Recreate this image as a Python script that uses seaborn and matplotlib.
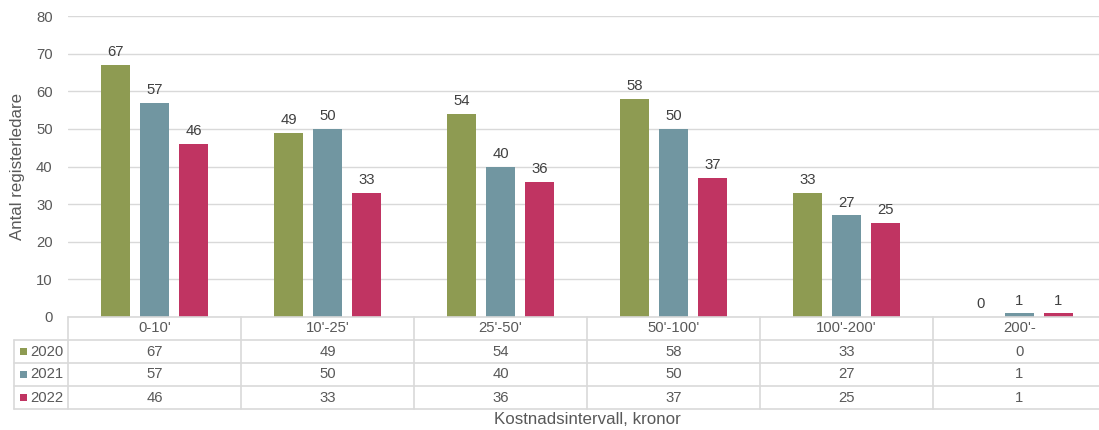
import matplotlib
matplotlib.use("Agg")
import matplotlib.pyplot as plt
import matplotlib.transforms as mtransforms
from matplotlib.patches import Rectangle
from matplotlib.lines import Line2D
import pandas as pd
import seaborn as sns

categories = ["0-10'", "10'-25'", "25'-50'", "50'-100'", "100'-200'", "200'-"]
years = ["2020", "2021", "2022"]
values_2020 = [67, 49, 54, 58, 33, 0]
values_2021 = [57, 50, 40, 50, 27, 1]
values_2022 = [46, 33, 36, 37, 25, 1]
colors = ["#8E9B52", "#7196A1", "#C03462"]

series = {"2020": values_2020, "2021": values_2021, "2022": values_2022}
df = pd.DataFrame(
    [(c, y, v) for y in years for c, v in zip(categories, series[y])],
    columns=["interval", "year", "antal"],
)

sns.set_theme(style="white")
plt.rcParams["font.family"] = ["Liberation Sans", "DejaVu Sans"]
TEXT = "#595959"
GRID = "#D9D9D9"
FS = 10.7
FS_LABEL = 12.2

W, H = 1099, 430
fig = plt.figure(figsize=(W / 100, H / 100), dpi=100)


def fx(px):
    return px / W


def fy(py):
    return 1 - py / H


ax_left, ax_right, ax_top, ax_bottom = 68, 1106, 16, 317
ax = fig.add_axes([fx(ax_left), fy(ax_bottom), fx(ax_right - ax_left), (ax_bottom - ax_top) / H])

sns.barplot(
    data=df, x="interval", y="antal", hue="year", order=categories,
    hue_order=years, palette=colors, width=0.675, gap=0.25,
    saturation=1, legend=False, ax=ax, linewidth=0, edgecolor="none",
)

ax.set_ylim(0, 80)
ax.set_xlim(-0.5, len(categories) - 0.5)
ax.set_yticks(range(0, 81, 10))
ax.yaxis.grid(True, color=GRID, linewidth=1)
ax.set_axisbelow(True)
for s in ax.spines.values():
    s.set_visible(False)
ax.tick_params(axis="y", labelsize=FS, labelcolor=TEXT, length=0, pad=11)
ax.set_xticks([])
ax.set_xlabel("")
ax.set_ylabel("Antal registerledare", fontsize=FS_LABEL, color=TEXT, labelpad=8)

for cont in ax.containers:
    ax.bar_label(cont, fmt="%g", padding=4, fontsize=FS, color="#404040")

# Data table below the plot
bt = mtransforms.blended_transform_factory(ax.transData, fig.transFigure)
row_y = [317, 340, 363, 386, 409]
n = len(categories)
lw = 1.2

# horizontal rules
fig.add_artist(Line2D([-0.5, n - 0.5], [fy(317)] * 2, transform=bt, color=GRID, lw=lw))
for yy in row_y[1:]:
    fig.add_artist(Line2D([fx(14), fx(ax_right)], [fy(yy)] * 2, transform=fig.transFigure, color=GRID, lw=lw))
# vertical rules
for i in range(n + 1):
    xx = i - 0.5
    fig.add_artist(Line2D([xx, xx], [fy(317), fy(409)], transform=bt, color=GRID, lw=lw))
fig.add_artist(Line2D([fx(14), fx(14)], [fy(340), fy(409)], transform=fig.transFigure, color=GRID, lw=lw))

# header row with category labels
for i, c in enumerate(categories):
    fig.text(i, fy(328.5), c, transform=bt, ha="center", va="center", fontsize=FS, color=TEXT)

# value rows with legend keys
for r, (y, col) in enumerate(zip(years, colors)):
    yc = (row_y[r + 1] + row_y[r + 2]) / 2
    fig.add_artist(Rectangle((fx(20), fy(yc + 3.5)), fx(7), 7 / H, transform=fig.transFigure,
                             facecolor=col, edgecolor="none"))
    fig.text(fx(30), fy(yc), y, ha="left", va="center", fontsize=FS, color=TEXT)
    for i, v in enumerate(series[y]):
        fig.text(i, fy(yc), str(v), transform=bt, ha="center", va="center", fontsize=FS, color=TEXT)

fig.text(fx(587), fy(420), "Kostnadsintervall, kronor", ha="center", va="center", fontsize=FS_LABEL, color=TEXT)

fig.savefig("out.png", dpi=100, facecolor="white")
